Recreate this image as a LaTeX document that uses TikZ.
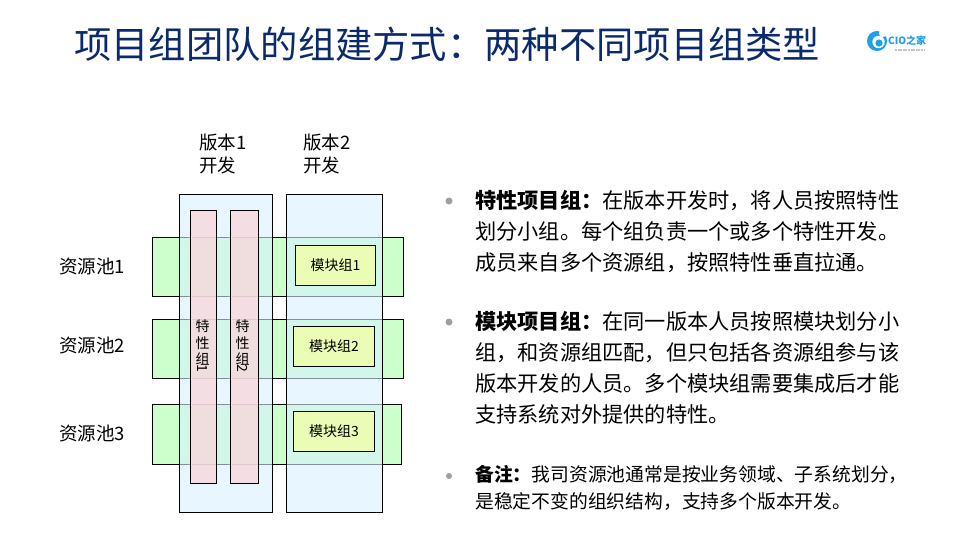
\documentclass[tikz,border=0pt]{standalone}
\usepackage{fontspec}
\setmainfont{Noto Sans CJK SC}
\definecolor{titleblue}{HTML}{0B2A6B}
\definecolor{greenbox}{HTML}{CCFFCC}
\definecolor{bluebox}{HTML}{D9F0FF}
\definecolor{pinkbox}{HTML}{F8D8DC}
\definecolor{yellowbox}{HTML}{EBFCB4}
\definecolor{logoblue}{HTML}{1E9FE8}
\newcommand{\fsz}[2]{\fontsize{#1}{#2}\selectfont}
\newcommand{\fwcolon}{\char"FF1A\relax}
\newcommand{\fwcomma}{\char"FF0C\relax}
\tikzset{
  boxbase/.style={draw=black,line width=1pt,inner sep=0pt},
  greenrow/.style={boxbase,fill=greenbox},
  bluecol/.style={fill=bluebox,fill opacity=.6},
  pinkcol/.style={boxbase,fill=pinkbox,fill opacity=.8},
  yellowmod/.style={boxbase,fill=yellowbox,font=\fsz{14}{16}},
  lbl/.style={inner sep=0pt,font=\fsz{18.5}{23}},
  para/.style={inner sep=0pt,anchor=north west,align=left,text width=470pt,font=\fsz{21.2}{31}},
  vtext/.style={inner sep=0pt,anchor=north,align=center,font=\fsz{14}{16.3}},
  dotb/.style={circle,fill=gray!75,inner sep=0pt,minimum size=7pt},
}
\begin{document}
\begin{tikzpicture}[x=1pt,y=-1pt]
\useasboundingbox (0,0) rectangle (960,549);
\fill[white] (0,0) rectangle (960,549);
\node[inner sep=0pt,text=titleblue,font=\fsz{37.3}{40},anchor=west] (title) at (74,44) {项目组团队的组建方式\fwcolon 两种不同项目组类型};
% logo
\fill[logoblue] (877,41) circle (10);
\fill[white] (878.5,42) circle (6.2);
\fill[logoblue] (879,43) circle (3.6);
\fill[white] (883,33) circle (4.2);
\node[inner sep=0pt,text=logoblue,font=\fsz{10}{12}\bfseries,anchor=west] (logotext) at (888,40.5) {CIO之家};
\draw[gray!45,line width=1.5pt,dash pattern=on 2pt off .6pt] (895,50) -- (924,50);
% rows
\draw[greenrow] (152.3,237.3) rectangle (403.5,296.3);
\draw[greenrow] (152.3,319.3) rectangle (403.5,378.5);
\draw[greenrow] (152.3,404.3) rectangle (401.5,464.3);
% columns
\fill[bluecol] (179.3,194.3) rectangle (272.3,512.3);
\fill[bluecol] (286.3,194.3) rectangle (382.6,512.3);
\draw[line width=1pt] (179.3,194.3) rectangle (272.3,512.3);
\draw[line width=1pt] (286.3,194.3) rectangle (382.6,512.3);
\draw[pinkcol] (190.3,210.3) rectangle (216.5,483.3);
\draw[pinkcol] (230.5,210.3) rectangle (258.5,483.3);
% feature groups
\node[vtext] (f1) at (202.5,320) {特\\性\\组\\[-16pt]\rotatebox{-90}{1}};
\node[vtext] (f2) at (242.5,320) {特\\性\\组\\[-16pt]\rotatebox{-90}{2}};
% modules
\node[yellowmod,minimum width=80.4pt,minimum height=40pt] (m1) at (335.5,265.3) {模块组1};
\node[yellowmod,minimum width=81.2pt,minimum height=40pt] (m2) at (333.9,346.3) {模块组2};
\node[yellowmod,minimum width=81.2pt,minimum height=40pt] (m3) at (333.9,431.3) {模块组3};
% labels
\node[lbl,anchor=west] (r1) at (59,267) {资源池1};
\node[lbl,anchor=west] (r2) at (59,345.5) {资源池2};
\node[lbl,anchor=west] (r3) at (59,433.5) {资源池3};
\node[lbl,anchor=north west,align=left] (v1) at (199,134) {版本1\\开发};
\node[lbl,anchor=north west,align=left] (v2) at (303,134) {版本2\\开发};
% right text
\node[dotb] (b1) at (449,201) {};
\node[dotb] (b2) at (449,322) {};
\node[dotb,minimum size=6pt] (b3) at (449,476) {};
\node[para] (p1) at (475,190) {\textbf{特性项目组\fwcolon}在版本开发时\fwcomma 将人员按照特性\\划分小组。每个组负责一个或多个特性开发。\\成员来自多个资源组\fwcomma 按照特性垂直拉通。};
\node[para] (p2) at (475,311) {\textbf{模块项目组\fwcolon}在同一版本人员按照模块划分小\\组\fwcomma 和资源组匹配\fwcomma 但只包括各资源组参与该\\版本开发的人员。多个模块组需要集成后才能\\支持系统对外提供的特性。};
\node[para,font=\fsz{18.8}{27}] (p3) at (475,465.5) {\textbf{备注\fwcolon}我司资源池通常是按业务领域、子系统划分\fwcomma\\是稳定不变的组织结构\fwcomma 支持多个版本开发。};
\end{tikzpicture}
\end{document}
